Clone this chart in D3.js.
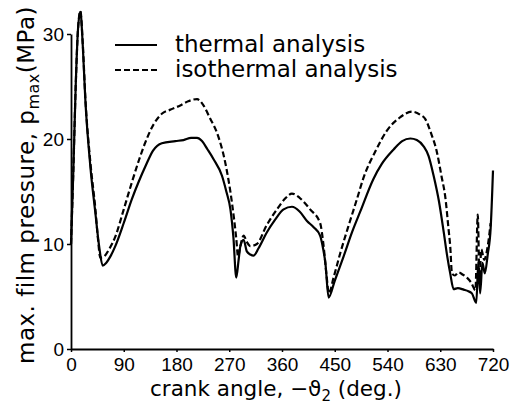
<!DOCTYPE html>
<html><head><meta charset="utf-8">
<script src="https://cdn.jsdelivr.net/npm/d3@7"></script>
<style>
html,body{margin:0;padding:0;background:#fff;}
svg{display:block;}
</style></head>
<body>
<svg id="c" width="519" height="407"></svg>
<script>
// crank angle (deg) / pressure (MPa) pairs
const thermalAngle = [0,4,8,12,16,20,24.4,33,41.5,48,54,60,67,75.6,90,104,116,127,140,155,178,192,205,215,223.5,233,243,257.6,265,272,277,282,286,289,294.5,300,306,311.6,320,334,348,362.7,377,390,402.6,414,425,430,434,439.5,450,465,480,493.6,516,530,550.5,565,579,590,601.6,610,618.7,628,636,642,647,652.8,660,670,678,684,691.5,695,698,702,706,711,716,720];
const thermalP = [10,17,25,30.5,32.1,29,23.8,17.4,13,9.8,7.95,8.2,8.8,9.8,12,14.3,16,17.4,18.9,19.6,19.8,19.9,20.1,20.1,19.8,19,18.1,16.5,15,13.3,10.7,6.8,8.5,9.8,10.4,9.3,9.0,8.9,9.6,11.1,12.3,13.3,13.55,13.1,12.2,11.6,10.8,9.6,8.2,4.9,6.5,8.8,11.2,13.1,16.2,17.6,19.0,19.8,20.05,19.9,19.3,18.4,16.5,14,11.1,8.8,7.2,5.7,5.8,5.65,5.5,5.3,4.4,8.3,5.3,8.2,7.2,9,11.5,17];
const isoAngle = [0,4,8,12,16,20,24.4,33,41.5,46,50,56,65,75.6,90,104,116,127,140,155,170,186.5,200,215,226,237,249,263,274.7,282,285,289,294.5,300,306,317,334,351.5,365,377,390,408,425,431,436,440,448,459.5,475,488,499,520,539,560,582,596,604.5,614,624.5,632,639,644,647,650,655,661,668,675.6,683,690,694,697,700,705,711,716];
const isoP = [10,17,25,30.5,32.2,29.2,24,17.8,13.4,10.5,8.7,8.8,9.5,10.7,13.3,15.9,18,19.7,21.3,22.4,22.8,23.2,23.6,23.8,23.2,22,20.6,17.8,13.9,10.5,8.8,9.8,10.8,10.2,9.8,10,11.8,13.3,14.3,14.8,14.4,13.3,12,9.8,7,5.3,6.8,9.15,12,14.3,16.3,18.9,20.8,22,22.6,22.3,21.9,20.6,18.7,16.5,14.3,11.5,9.8,7.2,7.0,7.3,7.1,6.8,6.3,5.6,12.8,6.5,9.5,8.5,9.8,12];
const xTicks = [0,90,180,270,360,450,540,630,720];
const yTicks = [0,10,20,30];
const legendLabels = ["thermal analysis","isothermal analysis"];

const svg = d3.select("#c");
const x = d3.scaleLinear().domain([0,720]).range([71,493]);
const y = d3.scaleLinear().domain([0,30]).range([349,34]);

const tickFont = "'Liberation Sans', Arial, sans-serif";
const textFont = "'DejaVu Sans', sans-serif";

// axes
const xAxis = svg.append("g").attr("transform","translate(0,349)")
  .call(d3.axisBottom(x).tickValues(xTicks).tickSize(3).tickSizeOuter(0).tickPadding(6));
const yAxis = svg.append("g").attr("transform","translate(71,0)")
  .call(d3.axisLeft(y).tickValues(yTicks).tickSize(4).tickSizeOuter(0).tickPadding(3));
[xAxis,yAxis].forEach(g=>{
  g.select(".domain").attr("stroke","#000").attr("stroke-width",1.8);
  g.selectAll(".tick line").attr("stroke","#000").attr("stroke-width",1.5);
  g.selectAll(".tick text").attr("fill","#000").style("font-family",tickFont).style("font-size","19px");
});

// curves
const line = d3.line().x(d=>x(d[0])).y(d=>y(d[1])).curve(d3.curveMonotoneX);
const thermal = thermalAngle.map((a,i)=>[a,thermalP[i]]);
const iso = isoAngle.map((a,i)=>[a,isoP[i]]);
svg.append("path").datum(iso).attr("d",line).attr("fill","none")
  .attr("stroke","#000").attr("stroke-width",2.2).attr("stroke-dasharray","6,3");
svg.append("path").datum(thermal).attr("d",line).attr("fill","none")
  .attr("stroke","#000").attr("stroke-width",2.2);

// legend
const lg = svg.append("g");
[[45,null],[70,"6,3"]].forEach((s,i)=>{
  lg.append("line").attr("x1",115).attr("x2",157).attr("y1",s[0]).attr("y2",s[0])
    .attr("stroke","#000").attr("stroke-width",2).attr("stroke-dasharray",s[1]);
  lg.append("text").attr("x",175).attr("y",s[0]+7).text(legendLabels[i])
    .style("font-family",textFont).style("font-size","23px").attr("fill","#000");
});

// axis titles
const xt = svg.append("text").attr("x",276).attr("y",396).attr("text-anchor","middle")
  .style("font-family",textFont).style("font-size","21.5px").attr("fill","#000");
xt.append("tspan").text("crank angle,  \u2212\u03D1");
xt.append("tspan").attr("dy",5).style("font-size","15px").text("2");
xt.append("tspan").attr("dy",-5).text(" (deg.)");

const yt = svg.append("text").attr("transform","translate(34,185) rotate(-90)").attr("text-anchor","middle")
  .style("font-family",textFont).style("font-size","23px").style("letter-spacing","0.5px").attr("fill","#000");
yt.append("tspan").text("max. film pressure, p");
yt.append("tspan").attr("dy",5).style("font-size","16px").text("max");
yt.append("tspan").attr("dy",-5).text("(MPa)");
</script>
</body></html>
